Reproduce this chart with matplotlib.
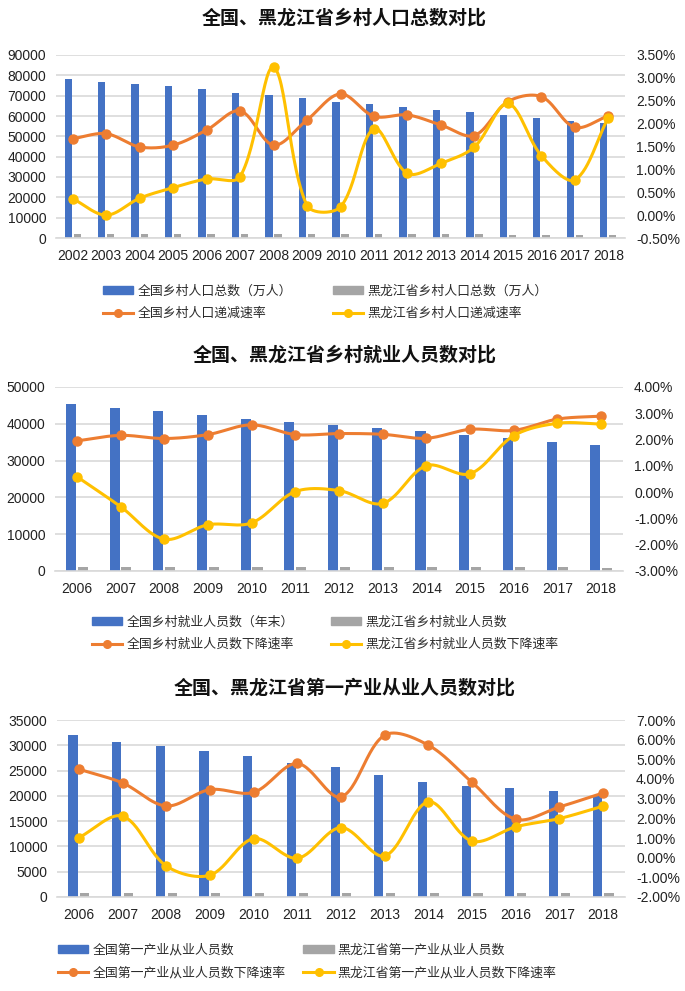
import numpy as np
import matplotlib
matplotlib.use('Agg')
import matplotlib.pyplot as plt
from matplotlib.lines import Line2D
from matplotlib.patches import Patch
from matplotlib.ticker import FuncFormatter

plt.rcParams['font.family'] = ['Liberation Sans', 'Noto Sans CJK SC', 'DejaVu Sans']

BLUE = '#4472C4'
GRAY = '#A5A5A5'
ORANGE = '#ED7D31'
YELLOW = '#FFC000'
GRID = '#D9D9D9'

# chart 1: rural population
years1 = [str(y) for y in range(2002, 2019)]
pop_cn = [78241, 76851, 75705, 74544, 73160, 71496, 70399, 68938, 67113,
          65656, 64222, 62961, 61866, 60346, 58973, 57661, 56401]
pop_hlj = [1950, 1950, 1943, 1931, 1916, 1900, 1839, 1835, 1832,
           1797, 1781, 1761, 1735, 1693, 1671, 1658, 1623]
pop_cn_rate = [1.67, 1.78, 1.49, 1.53, 1.86, 2.28, 1.53, 2.08, 2.65,
               2.16, 2.19, 1.97, 1.74, 2.48, 2.59, 1.92, 2.17]
pop_hlj_rate = [0.36, 0.00, 0.37, 0.60, 0.79, 0.84, 3.23, 0.21, 0.18,
                1.89, 0.91, 1.13, 1.49, 2.44, 1.30, 0.77, 2.13]
labels1 = ['全国乡村人口总数（万人）', '黑龙江省乡村人口总数（万人）',
           '全国乡村人口递减速率', '黑龙江省乡村人口递减速率']

# chart 2: rural employment
years2 = [str(y) for y in range(2006, 2019)]
emp_cn = [45348, 44368, 43461, 42506, 41418, 40506, 39602, 38737, 37943,
          37041, 36175, 35178, 34167]
emp_hlj = [990, 995, 1013, 1026, 1038, 1038, 1037, 1042, 1031, 1024, 1002, 976, 951]
emp_cn_rate = [1.95, 2.16, 2.04, 2.19, 2.56, 2.19, 2.23, 2.20, 2.05, 2.39,
               2.35, 2.78, 2.89]
emp_hlj_rate = [0.59, -0.55, -1.79, -1.24, -1.17, 0.02, 0.06, -0.43, 1.01,
                0.70, 2.15, 2.62, 2.59]
labels2 = ['全国乡村就业人员数（年末）', '黑龙江省乡村就业人员数',
           '全国乡村就业人员数下降速率', '黑龙江省乡村就业人员数下降速率']

# chart 3: primary industry employment
years3 = [str(y) for y in range(2006, 2019)]
pri_cn = [31941, 30731, 29923, 28890, 27931, 26594, 25773, 24171, 22790,
          21919, 21496, 20944, 20258]
pri_hlj = [810, 793, 796, 803, 795, 795, 783, 782, 760, 754, 742, 727, 708]
pri_cn_rate = [4.50, 3.80, 2.63, 3.46, 3.32, 4.79, 3.09, 6.23, 5.72, 3.83,
               1.95, 2.58, 3.29]
pri_hlj_rate = [1.02, 2.11, -0.42, -0.89, 0.97, -0.03, 1.53, 0.09, 2.84,
                0.84, 1.57, 1.99, 2.62]
labels3 = ['全国第一产业从业人员数', '黑龙江省第一产业从业人员数',
           '全国第一产业从业人员数下降速率', '黑龙江省第一产业从业人员数下降速率']


def smooth(x, y, sx, sy, n=30):
    # bezier smoothing, tangents weighted by segment length on screen
    x = np.asarray(x, float)
    y = np.asarray(y, float)
    m = len(x)
    d = np.hypot(np.diff(x) * sx, np.diff(y) * sy)
    px, py = [], []
    t = np.linspace(0, 1, n)
    for i in range(m - 1):
        x0, y0 = x[i], y[i]
        x3, y3 = x[i + 1], y[i + 1]
        if i > 0:
            f = d[i] / (d[i - 1] + d[i]) / 3
            x1 = x0 + (x3 - x[i - 1]) * f
            y1 = y0 + (y3 - y[i - 1]) * f
        else:
            x1, y1 = x0 + (x3 - x0) / 3, y0 + (y3 - y0) / 3
        if i + 2 < m:
            f = d[i] / (d[i] + d[i + 1]) / 3
            x2 = x3 - (x[i + 2] - x0) * f
            y2 = y3 - (y[i + 2] - y0) * f
        else:
            x2, y2 = x3 - (x3 - x0) / 3, y3 - (y3 - y0) / 3
        bx = (1 - t) ** 3 * x0 + 3 * (1 - t) ** 2 * t * x1 + 3 * (1 - t) * t ** 2 * x2 + t ** 3 * x3
        by = (1 - t) ** 3 * y0 + 3 * (1 - t) ** 2 * t * y1 + 3 * (1 - t) * t ** 2 * y2 + t ** 3 * y3
        px.extend(bx)
        py.extend(by)
    return px, py


def panel(fig, rect, title, title_y, years, cn, hlj, cn_rate, hlj_rate,
          ymax, ystep, rmin, rmax, rstep, labels, leg_xy, colspace, bw):
    ax = fig.add_axes(rect)
    x = np.arange(len(years))
    ax.bar(x - 0.135, cn, width=bw, color=BLUE, zorder=2)
    ax.bar(x + 0.135, hlj, width=bw, color=GRAY, zorder=2)
    ax.set_ylim(0, ymax)
    ax.set_yticks(np.arange(0, ymax + 1, ystep))
    ax.set_xlim(-0.5, len(years) - 0.5)
    ax.set_xticks(x)
    ax.set_xticklabels(years)
    ax.yaxis.grid(True, color=GRID, linewidth=1.2, zorder=0)
    ax.set_axisbelow(True)
    for s in ['top', 'right', 'left']:
        ax.spines[s].set_visible(False)
    ax.spines['bottom'].set_color(GRID)
    ax.spines['bottom'].set_linewidth(1.2)
    ax.tick_params(axis='both', length=0, labelsize=10, colors='#222222')
    ax.tick_params(axis='x', pad=8)
    ax.tick_params(axis='y', pad=7)

    ax2 = ax.twinx()
    # screen scale (px per data unit) for the smoothing weights
    pxx = rect[2] * W / len(years)
    pxy = rect[3] * H / (rmax - rmin)
    cx, cy = smooth(x, cn_rate, pxx, pxy)
    ax2.plot(cx, cy, color=ORANGE, linewidth=2.2, zorder=3)
    ax2.plot(x, cn_rate, 'o', color=ORANGE, markersize=6.5, zorder=3)
    cx, cy = smooth(x, hlj_rate, pxx, pxy)
    ax2.plot(cx, cy, color=YELLOW, linewidth=2.2, zorder=4)
    ax2.plot(x, hlj_rate, 'o', color=YELLOW, markersize=6.5, zorder=4)
    ax2.set_ylim(rmin, rmax)
    ax2.set_yticks(np.arange(rmin, rmax + rstep / 2, rstep))
    ax2.yaxis.set_major_formatter(FuncFormatter(lambda v, p: '{:.2f}%'.format(v)))
    for s in ax2.spines.values():
        s.set_visible(False)
    ax2.tick_params(axis='y', length=0, labelsize=10, colors='#222222', pad=8)

    fig.text(0.503, title_y, title, ha='center', va='center', fontsize=13.7,
             fontweight='bold', color='#111111')

    handles = [Patch(color=BLUE), Patch(color=GRAY),
               Line2D([], [], color=ORANGE, linewidth=2.2, marker='o', markersize=5.5),
               Line2D([], [], color=YELLOW, linewidth=2.2, marker='o', markersize=5.5)]
    # legend is filled column by column
    order = [0, 2, 1, 3]
    fig.legend([handles[i] for i in order], [labels[i] for i in order],
               loc='upper left', bbox_to_anchor=leg_xy, ncol=2, frameon=False,
               fontsize=9.3, handlelength=2.35, handleheight=0.55,
               handletextpad=0.3, columnspacing=colspace, labelspacing=0.8,
               borderpad=0, borderaxespad=0, labelcolor='#2b2b2b')
    return ax


fig = plt.figure(figsize=(6.85, 9.91), dpi=100)
W, H = 685.0, 991.0


def fr(l, t, r, b):
    return [l / W, 1 - b / H, (r - l) / W, (b - t) / H]


panel(fig, fr(56, 55, 625, 238), '全国、黑龙江省乡村人口总数对比', 1 - 18 / H,
      years1, pop_cn, pop_hlj, pop_cn_rate, pop_hlj_rate,
      90000, 10000, -0.5, 3.5, 0.5, labels1, (103 / W, 1 - 285 / H), 3.2, 0.22)
panel(fig, fr(55, 387, 623, 571), '全国、黑龙江省乡村就业人员数对比', 1 - 355 / H,
      years2, emp_cn, emp_hlj, emp_cn_rate, emp_hlj_rate,
      50000, 10000, -3, 4, 1, labels2, (92 / W, 1 - 616 / H), 2.9, 0.23)
panel(fig, fr(57, 720, 625, 897), '全国、黑龙江省第一产业从业人员数对比', 1 - 688 / H,
      years3, pri_cn, pri_hlj, pri_cn_rate, pri_hlj_rate,
      35000, 5000, -2, 7, 1, labels3, (58 / W, 1 - 944 / H), 1.4, 0.21)

fig.savefig('out.png', dpi=100, facecolor='white')
